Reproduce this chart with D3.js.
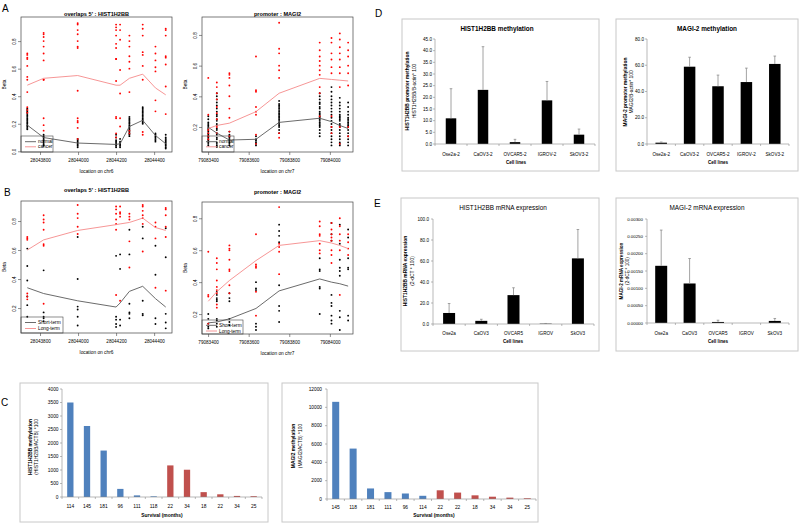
<!DOCTYPE html>
<html><head><meta charset="utf-8">
<script src="https://cdn.jsdelivr.net/npm/d3@7"></script>
<style>
body{margin:0;background:#fff}
text{font-family:"Liberation Sans",Arial,sans-serif;fill:#000}
.xl text{font-family:"Liberation Sans Narrow","Liberation Sans",Arial,sans-serif}
</style>
</head><body><svg id="c" width="800" height="525"></svg>
<script>
// ---------------- DATA ----------------
// Panel A/B left: HIST1H2BB CpG positions on chr6
const histPos = [28043733, 28043819, 28043998, 28044200, 28044221, 28044270, 28044340, 28044407, 28044461];
const histTicks = [28043800, 28044000, 28044200, 28044400];
// Panel A/B right: MAGI2 CpG positions on chr7
const magiPos = [79083401, 79083443, 79083505, 79083636, 79083750, 79083950, 79084008, 79084049, 79084090];
const magiTicks = [79083400, 79083600, 79083800, 79084000];

// A left: cancer (red) and normal (black) beta values per CpG
const aHistCancer = [
 [0.71,0.70,0.68,0.67,0.62,0.54,0.52,0.43,0.32,0.30,0.28],
 [0.86,0.85,0.83,0.80,0.76,0.71,0.66,0.52,0.52,0.24,0.19,0.15],
 [0.93,0.92,0.88,0.85,0.80,0.76,0.75,0.44,0.24,0.22,0.21,0.17,0.09],
 [0.92,0.90,0.88,0.84,0.78,0.75,0.67,0.67,0.51,0.25,0.24,0.13,0.10],
 [0.92,0.88,0.81,0.59,0.42,0.24,0.18],
 [0.84,0.80,0.76,0.69,0.65,0.60,0.43,0.15,0.13],
 [0.92,0.89,0.84,0.72,0.70,0.62,0.52,0.14,0.12],
 [0.76,0.71,0.66,0.61,0.58,0.37,0.29],
 [0.89,0.88,0.84,0.69,0.68,0.63,0.47,0.27]];
const aHistNormal = [
 [0.31,0.30,0.29,0.28,0.27,0.26,0.25,0.24,0.23,0.22,0.21,0.20,0.19,0.18,0.17,0.16],
 [0.12,0.11,0.10,0.09,0.08,0.07,0.06,0.05,0.04],
 [0.09,0.08,0.07,0.06,0.05,0.04,0.03],
 [0.12,0.10,0.08,0.07,0.06,0.05,0.04,0.03],
 [0.09,0.07,0.06,0.05,0.04,0.03],
 [0.25,0.24,0.23,0.22,0.21,0.20,0.19,0.18,0.17,0.16,0.15,0.14,0.13,0.12,0.11],
 [0.32,0.31,0.30,0.29,0.28,0.27,0.26,0.25,0.24,0.23,0.22,0.21,0.20],
 [0.13,0.12,0.11,0.10,0.09,0.08,0.07],
 [0.12,0.10,0.09,0.08,0.07,0.06,0.05,0.04,0.03,0.02]];
const aHistCancerMean = [0.48,0.53,0.55,0.48,0.48,0.53,0.56,0.46,0.41];
const aHistNormalMean = [0.19,0.10,0.06,0.05,0.055,0.18,0.225,0.115,0.055];

// A right
const aMagiCancer = [
 [0.52,0.28,0.18,0.16,0.14,0.12],
 [0.49,0.46,0.42,0.38,0.33,0.29,0.25,0.20,0.16],
 [0.55,0.54,0.52,0.47,0.40,0.32,0.26,0.17,0.14],
 [0.66,0.44,0.43,0.33,0.30,0.28,0.15,0.09],
 [0.88,0.71,0.68,0.60,0.57,0.52,0.16,0.13],
 [0.75,0.70,0.66,0.63,0.60,0.57,0.54,0.46,0.42,0.27],
 [0.78,0.75,0.68,0.64,0.59,0.55,0.27,0.20,0.16],
 [0.81,0.77,0.72,0.68,0.64,0.59,0.55,0.46,0.20,0.09],
 [0.75,0.70,0.66,0.60,0.55,0.47,0.20,0.14]];
const aMagiNormal = [
 [0.27,0.25,0.23,0.22,0.21,0.20,0.19,0.18,0.17,0.16,0.15,0.14,0.13,0.12,0.11,0.10,0.09,0.08],
 [0.42,0.40,0.38,0.36,0.34,0.32,0.30,0.28,0.27,0.25,0.24,0.22,0.21,0.19,0.18,0.16,0.15,0.13,0.12,0.10,0.09,0.08,0.07],
 [0.17,0.15,0.14,0.13,0.12,0.11,0.10,0.09,0.08],
 [0.14,0.12,0.11,0.10,0.09,0.08],
 [0.37,0.35,0.34,0.33,0.32,0.31,0.30,0.29,0.28,0.27,0.26,0.25,0.24,0.23,0.22,0.21,0.20,0.18,0.16],
 [0.42,0.40,0.38,0.36,0.35,0.33,0.32,0.30,0.29,0.28,0.27,0.26,0.25,0.24,0.23,0.22,0.21,0.20,0.18,0.16,0.14],
 [0.46,0.43,0.40,0.38,0.36,0.34,0.32,0.30,0.28,0.26,0.24,0.22,0.20,0.18,0.16,0.14,0.12,0.10,0.08],
 [0.39,0.36,0.34,0.32,0.30,0.28,0.27,0.26,0.25,0.24,0.22,0.21,0.20,0.18,0.16,0.14,0.12,0.10,0.09,0.08],
 [0.36,0.33,0.30,0.28,0.26,0.25,0.24,0.23,0.22,0.21,0.20,0.18,0.16,0.14,0.12,0.10,0.08]];
const aMagiCancerMean = [0.19,0.21,0.225,0.30,0.42,0.517,0.51,0.505,0.50];
const aMagiNormalMean = [0.198,0.16,0.115,0.12,0.23,0.257,0.235,0.21,0.19];

// B left: long-term (red) and short-term (black)
const bHistLong = [
 [0.69,0.68,0.67,0.30,0.28,0.26],
 [0.84,0.81,0.79,0.74,0.64,0.63,0.23],
 [0.91,0.85,0.82,0.76,0.71],
 [0.90,0.88,0.85,0.81,0.78,0.74,0.29],
 [0.90,0.86,0.85,0.83,0.25],
 [0.85,0.83,0.81,0.66,0.48],
 [0.91,0.90,0.87,0.84,0.82,0.78,0.59],
 [0.79,0.76,0.68,0.34],
 [0.89,0.88,0.84,0.76,0.69,0.32]];
const bHistShort = [
 [0.61,0.49,0.39,0.28,0.22,0.14],
 [0.46,0.17,0.14,0.13,0.11],
 [0.69,0.40,0.21,0.19,0.14,0.08],
 [0.56,0.14,0.12,0.09,0.07],
 [0.57,0.47,0.12,0.08],
 [0.74,0.57,0.23,0.17,0.16,0.13],
 [0.76,0.68,0.25,0.16,0.15],
 [0.63,0.43,0.13,0.09],
 [0.75,0.55,0.16,0.10,0.06]];
const bHistLongMean = [0.60,0.67,0.735,0.775,0.78,0.79,0.82,0.755,0.735];
const bHistShortMean = [0.34,0.30,0.25,0.207,0.235,0.315,0.35,0.265,0.207];

// B right
const bMagiLong = [
 [0.59,0.32,0.31,0.14],
 [0.55,0.52,0.48,0.41,0.37,0.35,0.33,0.26,0.24],
 [0.63,0.61,0.60,0.54,0.48,0.47,0.38,0.33],
 [0.70,0.51,0.50,0.49,0.34,0.19],
 [0.87,0.64,0.62,0.59,0.45],
 [0.78,0.75,0.70,0.69,0.64,0.60,0.58],
 [0.77,0.73,0.70,0.68,0.66,0.60,0.57,0.52],
 [0.80,0.75,0.70,0.66,0.60,0.32],
 [0.70,0.65,0.61,0.57]];
const bMagiShort = [
 [0.20,0.17,0.14,0.12,0.11],
 [0.34,0.32,0.30,0.29,0.28,0.17,0.16,0.14,0.12],
 [0.33,0.30,0.28,0.17,0.15,0.13],
 [0.40,0.36,0.35,0.14,0.12,0.10],
 [0.76,0.72,0.69,0.65,0.38,0.25,0.22,0.15],
 [0.55,0.48,0.47,0.37,0.36,0.20],
 [0.77,0.70,0.66,0.32,0.27,0.25,0.19,0.16,0.14],
 [0.76,0.64,0.54,0.49,0.47,0.44,0.22,0.18,0.10],
 [0.73,0.68,0.55,0.49,0.48,0.19,0.16]];
const bMagiLongMean = [0.28,0.34,0.41,0.535,0.63,0.66,0.645,0.63,0.61];
const bMagiShortMean = [0.145,0.15,0.17,0.235,0.345,0.42,0.40,0.39,0.375];

// C: qMSP methylation by survival
const cHistCats = ["114","145","181","96","111","118","22","34","18","22","34","25"];
const cHistVals = [3500,2630,1720,300,60,25,1170,1010,180,100,40,30];
const cMagiCats = ["145","118","181","111","96","114","22","22","18","34","34","25"];
const cMagiVals = [10600,5500,1150,750,600,350,950,700,400,250,150,80];
const cGroups = ["long","long","long","long","long","long","short","short","short","short","short","short"];

// D: promoter methylation in cell lines
const dCells = ["Ose2a-2","CaOV3-2","OVCAR5-2","IGROV-2","SkOV3-2"];
const dHistMean = [11.0, 23.2, 0.8, 18.7, 4.0];
const dHistErr  = [12.7, 18.5, 1.2, 8.1, 2.4];
const dMagiMean = [1.0, 58.9, 44.0, 47.2, 61.0];
const dMagiErr  = [0.5, 7.2, 8.5, 10.6, 6.0];

// E: mRNA expression in cell lines
const eCells = ["Ose2a","CaOV3","OVCAR5","IGROV","SkOV3"];
const eHistMean = [10.5, 3.0, 27.5, 0.3, 62.5];
const eHistErr  = [9.0, 1.5, 7.0, 0.2, 27.5];
const eMagiMean = [0.00165, 0.00114, 0.00003, 0.0, 0.00006];
const eMagiErr  = [0.00103, 0.00072, 0.00005, 0.0, 0.00007];

// ---------------- DRAWING ----------------
const svg = d3.select("#c");
const RED = "#ff0000", PINK = "#f58a8a", GRAY = "#5a5a5a";

function scatterPanel(c){
  const [x0,y0,x1,y1] = c.box;
  const x = d3.scaleLinear().domain(c.xDomain).range([x0,x1]);
  const y = d3.scaleLinear().domain(c.yDomain).range([y1,y0]);
  const g = svg.append("g");
  const flat = arr => arr.flatMap((col,i)=>col.map(v=>({p:c.pos[i],v})));
  g.append("g").selectAll("circle").data(flat(c.black)).join("circle")
    .attr("cx",d=>x(d.p)).attr("cy",d=>y(d.v)).attr("r",0.95).attr("fill","#000");
  g.append("g").selectAll("circle").data(flat(c.red)).join("circle")
    .attr("cx",d=>x(d.p)).attr("cy",d=>y(d.v)).attr("r",0.95).attr("fill",RED);
  const line = d3.line().x((d,i)=>x(c.pos[i])).y(d=>y(d));
  g.append("path").datum(c.blackMean).attr("d",line).attr("fill","none").attr("stroke",GRAY).attr("stroke-width",0.9);
  g.append("path").datum(c.redMean).attr("d",line).attr("fill","none").attr("stroke",PINK).attr("stroke-width",0.9);
  g.append("rect").attr("x",x0).attr("y",y0).attr("width",x1-x0).attr("height",y1-y0)
    .attr("fill","none").attr("stroke","#444").attr("stroke-width",0.7);
  const xa = g.append("g").attr("transform",`translate(0,${y1})`)
    .call(d3.axisBottom(x).tickValues(c.xTicks).tickSize(3).tickPadding(4).tickFormat(d3.format("d")));
  xa.select(".domain").remove();
  xa.selectAll("line").attr("stroke","#444").attr("stroke-width",0.6);
  xa.selectAll("text").style("font-size","4.6px");
  const ya = g.append("g").attr("transform",`translate(${x0},0)`)
    .call(d3.axisLeft(y).tickValues(c.yTicks).tickSize(3).tickFormat(d3.format(".1f")));
  ya.select(".domain").remove();
  ya.selectAll("line").attr("stroke","#444").attr("stroke-width",0.6);
  ya.selectAll("text").attr("x",null).attr("dy",null).attr("text-anchor","middle")
    .attr("transform","translate(-5.5,0) rotate(-90)").style("font-size","4.6px");
  const cx = (x0+x1)/2;
  g.append("text").attr("x",cx).attr("y",c.titleY).attr("text-anchor","middle").attr("dy","0.35em")
    .style("font-size","5.6px").style("font-weight","bold").text(c.title);
  g.append("text").attr("x",cx).attr("y",y1+19).attr("text-anchor","middle").attr("dy","0.35em")
    .style("font-size","4.8px").text(c.xlabel);
  g.append("text").attr("transform",`translate(${x0-15},${(y0+y1)/2}) rotate(-90)`).attr("text-anchor","middle")
    .style("font-size","4.8px").text("Beta");
  // legend
  const [lx0,ly0,lx1,ly1] = c.legBox;
  g.append("rect").attr("x",lx0).attr("y",ly0).attr("width",lx1-lx0).attr("height",ly1-ly0)
    .attr("fill","none").attr("stroke","#444").attr("stroke-width",0.6);
  c.legend.forEach((e,i)=>{
    const yy = c.legY[i];
    g.append("line").attr("x1",lx0+4).attr("x2",lx0+15).attr("y1",yy).attr("y2",yy)
      .attr("stroke",e.color).attr("stroke-width",0.9);
    g.append("text").attr("x",lx0+17).attr("y",yy).attr("dy","0.35em").style("font-size","4.8px").text(e.label);
  });
}

scatterPanel({box:[21,17,172,152], xDomain:[28043700,28044494], yDomain:[-0.005,0.975],
  pos:histPos, red:aHistCancer, black:aHistNormal, redMean:aHistCancerMean, blackMean:aHistNormalMean,
  xTicks:histTicks, yTicks:[0,0.2,0.4,0.6,0.8], title:"overlaps 5' : HIST1H2BB", titleY:14,
  xlabel:"location on chr6", legBox:[21,136,53,152], legY:[141.7,146.8],
  legend:[{label:"normal",color:GRAY},{label:"cancer",color:PINK}]});
scatterPanel({box:[202,17,353,152], xDomain:[79083370,79084114], yDomain:[0.037,0.917],
  pos:magiPos, red:aMagiCancer, black:aMagiNormal, redMean:aMagiCancerMean, blackMean:aMagiNormalMean,
  xTicks:magiTicks, yTicks:[0.2,0.4,0.6,0.8], title:"promoter : MAGI2", titleY:14,
  xlabel:"location on chr7", legBox:[202,136,234,152], legY:[141.7,146.8],
  legend:[{label:"normal",color:GRAY},{label:"cancer",color:PINK}]});
scatterPanel({box:[21,201,172,333], xDomain:[28043700,28044494], yDomain:[0.028,0.938],
  pos:histPos, red:bHistLong, black:bHistShort, redMean:bHistLongMean, blackMean:bHistShortMean,
  xTicks:histTicks, yTicks:[0.2,0.4,0.6,0.8], title:"overlaps 5' : HIST1H2BB", titleY:190,
  xlabel:"location on chr6", legBox:[21,317,63,333], legY:[322.5,328.5],
  legend:[{label:"Short-term",color:GRAY},{label:"Long-term",color:PINK}]});
scatterPanel({box:[202,202,353,334], xDomain:[79083370,79084114], yDomain:[0.075,0.902],
  pos:magiPos, red:bMagiLong, black:bMagiShort, redMean:bMagiLongMean, blackMean:bMagiShortMean,
  xTicks:magiTicks, yTicks:[0.2,0.4,0.6,0.8], title:"promoter : MAGI2", titleY:192,
  xlabel:"location on chr7", legBox:[202,320,243,334], legY:[325.3,331],
  legend:[{label:"Short-term",color:GRAY},{label:"Long-term",color:PINK}]});

// Excel-style bar panels
function barPanel(c){
  const g = svg.append("g").attr("class","xl");
  const [bx0,by0,bx1,by1] = c.box;
  g.append("rect").attr("x",bx0).attr("y",by0).attr("width",bx1-bx0).attr("height",by1-by0)
    .attr("fill","#fff").attr("stroke","#c8c8c8").attr("stroke-width",1);
  const n = c.cats.length;
  const x = d3.scaleBand().domain(d3.range(n)).range(c.xRange);
  const y = d3.scaleLinear().domain(c.yDomain).range(c.yRange);
  const ax = c.xRange[0];
  // bars
  g.append("g").selectAll("rect").data(c.vals).join("rect")
    .attr("x",(d,i)=>x(i)+x.bandwidth()/2-c.barW/2).attr("width",c.barW)
    .attr("y",d=>y(d)).attr("height",d=>y(0)-y(d))
    .attr("fill",(d,i)=>c.color(i));
  // error bars
  if (c.err){
    const eg = g.append("g").attr("stroke","#8c8c8c").attr("stroke-width",0.8);
    c.vals.forEach((v,i)=>{
      if (!c.err[i]) return;
      const cxp = x(i)+x.bandwidth()/2;
      eg.append("line").attr("x1",cxp).attr("x2",cxp).attr("y1",y(v)).attr("y2",y(v+c.err[i]));
      eg.append("line").attr("x1",cxp-1.3).attr("x2",cxp+1.3).attr("y1",y(v+c.err[i])).attr("y2",y(v+c.err[i]));
    });
  }
  // y axis
  g.append("line").attr("x1",ax).attr("x2",ax).attr("y1",c.yRange[0]).attr("y2",c.yRange[1]).attr("stroke","#8c8c8c").attr("stroke-width",0.6);
  const yt = g.append("g");
  c.yTicks.forEach(t=>{
    yt.append("line").attr("x1",ax-2).attr("x2",ax).attr("y1",y(t)).attr("y2",y(t)).attr("stroke","#8c8c8c").attr("stroke-width",0.6);
    yt.append("text").attr("x",ax-c.labGap).attr("y",y(t)).attr("dy","0.35em").attr("text-anchor","end")
      .style("font-size",c.tickFs).text(c.tickFmt(t));
  });
  // x axis
  g.append("line").attr("x1",c.xRange[0]).attr("x2",c.xRange[1]).attr("y1",y(0)).attr("y2",y(0)).attr("stroke","#8c8c8c").attr("stroke-width",0.6);
  for (let i=0;i<=n;i++){
    const xx = c.xRange[0] + i*x.step();
    g.append("line").attr("x1",xx).attr("x2",xx).attr("y1",y(0)).attr("y2",y(0)+2).attr("stroke","#8c8c8c").attr("stroke-width",0.6);
  }
  g.append("g").selectAll("text").data(c.cats).join("text")
    .attr("x",(d,i)=>x(i)+x.bandwidth()/2).attr("y",c.catY).attr("dy","0.35em").attr("text-anchor","middle")
    .style("font-size",c.catFs).text(d=>d);
  g.append("text").attr("x",c.xlabX).attr("y",c.xlabY).attr("dy","0.35em").attr("text-anchor","middle")
    .style("font-size",c.xlabFs).style("font-weight","bold").text(c.xlabel);
  // y label lines
  c.ylab.forEach((l,i)=>{
    g.append("text").attr("transform",`translate(${c.ylabX[i]},${c.ylabY}) rotate(-90)`).attr("text-anchor","middle")
      .style("font-size",c.ylabFs).style("font-weight",i===0?"bold":"normal").text(l);
  });
  if (c.title){
    g.append("text").attr("x",c.titleX).attr("y",c.titleY).attr("dy","0.35em").attr("text-anchor","middle")
      .style("font-size","6.4px").style("font-weight",c.titleW||"normal").text(c.title);
  }
}

const cColor = i => cGroups[i]==="long" ? "#4f81bd" : "#c0504d";
barPanel({box:[20,383,268,522], xRange:[62,262], yRange:[497,389], yDomain:[0,4000],
  yTicks:d3.range(0,4001,500), tickFmt:d3.format("d"), labGap:3.5, tickFs:"4.8px",
  cats:cHistCats, vals:cHistVals, color:cColor, barW:6.3, catY:506, catFs:"4.9px",
  xlabel:"Survival (months)", xlabX:162, xlabY:515, xlabFs:"4.9px",
  ylab:["HIST1H2BB methylation","(HIST1H2BB/ACTB) *100"], ylabX:[32,37.5], ylabY:447, ylabFs:"4.9px"});
barPanel({box:[282,383,538,522], xRange:[327,536], yRange:[499,389], yDomain:[0,12000],
  yTicks:d3.range(0,12001,2000), tickFmt:d3.format("d"), labGap:5, tickFs:"4.8px",
  cats:cMagiCats, vals:cMagiVals, color:cColor, barW:7, catY:507, catFs:"4.9px",
  xlabel:"Survival (months)", xlabX:434, xlabY:515, xlabFs:"4.9px",
  ylab:["MAGI2 methylation","(MAGI2/ACTB) *100"], ylabX:[295,302], ylabY:446, ylabFs:"4.9px"});

const black = () => "#000";
barPanel({box:[402,19,599,171], xRange:[435,595], yRange:[144,39], yDomain:[0,45],
  yTicks:d3.range(0,45.1,5), tickFmt:d3.format(".1f"), labGap:3, tickFs:"4.6px",
  cats:dCells, vals:dHistMean, err:dHistErr, color:black, barW:10.5, catY:154.3, catFs:"4.6px",
  xlabel:"Cell lines", xlabX:516, xlabY:162.3, xlabFs:"4.6px",
  ylab:["HIST1H2BB promoter methylation","HIST1H2BB/B-actin* 100"], ylabX:[409,415.5], ylabY:91, ylabFs:"4.9px",
  title:"HIST1H2BB methylation", titleX:497, titleY:29, titleW:"bold"});
barPanel({box:[616,19,798,171], xRange:[647,789], yRange:[144,39], yDomain:[0,80],
  yTicks:d3.range(0,80.1,20), tickFmt:d3.format(".1f"), labGap:3, tickFs:"4.6px",
  cats:dCells, vals:dMagiMean, err:dMagiErr, color:black, barW:11.5, catY:154.3, catFs:"4.6px",
  xlabel:"Cell lines", xlabX:718, xlabY:162.3, xlabFs:"4.6px",
  ylab:["MAGI-2 promoter methylation","MAGI2/B-actin* 100"], ylabX:[627,633], ylabY:92, ylabFs:"4.9px",
  title:"MAGI-2 methylation", titleX:707, titleY:29, titleW:"bold"});
barPanel({box:[401,198,599,351], xRange:[433,594], yRange:[324,219], yDomain:[0,100],
  yTicks:d3.range(0,100.1,20), tickFmt:d3.format(".1f"), labGap:4, tickFs:"4.6px",
  cats:eCells, vals:eHistMean, err:eHistErr, color:black, barW:12, catY:333, catFs:"4.6px",
  xlabel:"Cell lines", xlabX:513, xlabY:341.7, xlabFs:"4.6px",
  ylab:["HIST1H2BB mRNA expression","(2-dCT * 100)"], ylabX:[407,414], ylabY:271, ylabFs:"4.9px",
  title:"HIST1H2BB mRNA expression", titleX:503, titleY:208});
barPanel({box:[616,198,798,351], xRange:[647,789], yRange:[323,219], yDomain:[0,0.003],
  yTicks:d3.range(0,0.00301,0.0005), tickFmt:d3.format(".5f"), labGap:4, tickFs:"4.4px",
  cats:eCells, vals:eMagiMean, err:eMagiErr, color:black, barW:12, catY:333, catFs:"4.6px",
  xlabel:"Cell lines", xlabX:718, xlabY:341.7, xlabFs:"4.6px",
  ylab:["MAGI-2 mRNA expression","(2-dCT * 100)"], ylabX:[623,628.5], ylabY:271, ylabFs:"4.6px",
  title:"MAGI-2 mRNA expression", titleX:707, titleY:208});

// panel letters
[["A",2,12],["B",4,196],["C",1,406],["D",375,17],["E",374,207]].forEach(([t,x,y])=>{
  svg.append("text").attr("x",x).attr("y",y).style("font-size","10px").text(t);
});
</script>
</body></html>
